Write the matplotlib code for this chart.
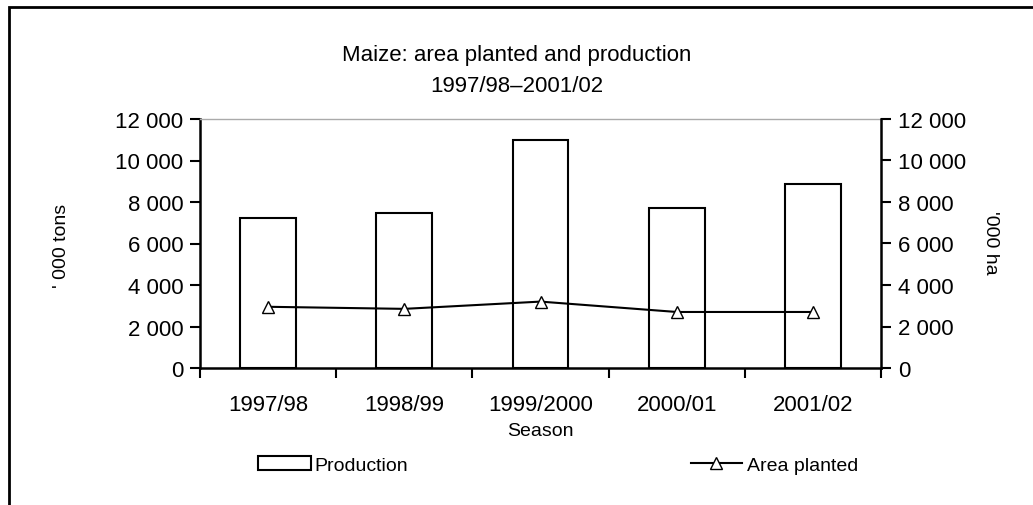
import numpy as np
import matplotlib
matplotlib.use("Agg")
import matplotlib.pyplot as plt
from matplotlib.patches import Rectangle
from matplotlib.ticker import FuncFormatter, MultipleLocator, FixedLocator

plt.rcParams['font.family'] = ['Liberation Sans', 'DejaVu Sans']

# data
seasons = ['1997/98', '1998/99', '1999/2000', '2000/01', '2001/02']
production = [7250, 7480, 11000, 7720, 8850]      # '000 tons
area_planted = [2950, 2850, 3200, 2700, 2700]     # '000 ha

fs = 14      # words
fs_num = 16  # numbers (wider in the original)
fig = plt.figure(figsize=(10.33, 5.06), dpi=100)
ax = fig.add_axes([200 / 1033, 1 - 369 / 506, 681 / 1033, 249 / 506])

x = np.arange(len(seasons))
ax.bar(x, production, width=0.41, color='white', edgecolor='black',
       linewidth=1.5, label='Production', zorder=2)

ax2 = ax.twinx()
ax2.plot(x, area_planted, color='black', linewidth=1.5, marker='^',
         markersize=8, markerfacecolor='white', markeredgecolor='black',
         label='Area planted', zorder=3)

fmt = FuncFormatter(lambda v, p: f'{int(v):,}'.replace(',', ' '))
for a in (ax, ax2):
    a.set_ylim(0, 12000)
    a.yaxis.set_major_locator(MultipleLocator(2000))
    a.yaxis.set_major_formatter(fmt)
    a.tick_params(axis='y', labelsize=fs_num, length=7, width=1.5,
                  direction='out', pad=5)

ax.set_xlim(-0.5, len(seasons) - 0.5)
ax.set_xticks(x)
ax.set_xticklabels(seasons, fontsize=fs_num)
ax.xaxis.set_minor_locator(FixedLocator(np.arange(-0.5, len(seasons), 1)))
ax.tick_params(axis='x', which='major', length=0, pad=19)
ax.tick_params(axis='x', which='minor', length=7, width=1.5, direction='out')

for s in ('left', 'bottom'):
    ax.spines[s].set_linewidth(1.8)
ax.spines['top'].set_color('#aaaaaa')
ax.spines['top'].set_linewidth(1.0)
ax.spines['right'].set_visible(False)
for s in ('left', 'bottom', 'top'):
    ax2.spines[s].set_visible(False)
ax2.spines['right'].set_linewidth(1.8)

ax.set_xlabel('Season', fontsize=fs, labelpad=5)
fig.text(62 / 1033, 1 - 246 / 506, "' 000 tons", rotation=90, fontsize=fs,
         ha='center', va='center')
fig.text(990 / 1033, 1 - 243 / 506, "'000 ha", rotation=270, fontsize=fs,
         ha='center', va='center')

fig.text(0.5, 1 - 55 / 506, 'Maize: area planted and production',
         fontsize=fs_num, ha='center', va='center')
fig.text(0.5, 1 - 87 / 506, '1997/98\u20132001/02',
         fontsize=fs_num, ha='center', va='center')

h1, l1 = ax.get_legend_handles_labels()
h2, l2 = ax2.get_legend_handles_labels()
fig.legend(h1, l1, loc='center left', bbox_to_anchor=(258 / 1033, 1 - 466 / 506),
           frameon=False, fontsize=fs, handlelength=2.7, handletextpad=0.2,
           borderpad=0, borderaxespad=0)
fig.legend(h2, l2, loc='center left', bbox_to_anchor=(691 / 1033, 1 - 466 / 506),
           frameon=False, fontsize=fs, handlelength=2.6, handletextpad=0.3,
           borderpad=0, borderaxespad=0)

# outer frame
fig.patches.append(Rectangle((9 / 1033, -0.1), 1.2, 1 - 8 / 506 + 0.1,
                             transform=fig.transFigure, fill=False,
                             edgecolor='black', linewidth=2))

fig.savefig('out.png', dpi=100)
